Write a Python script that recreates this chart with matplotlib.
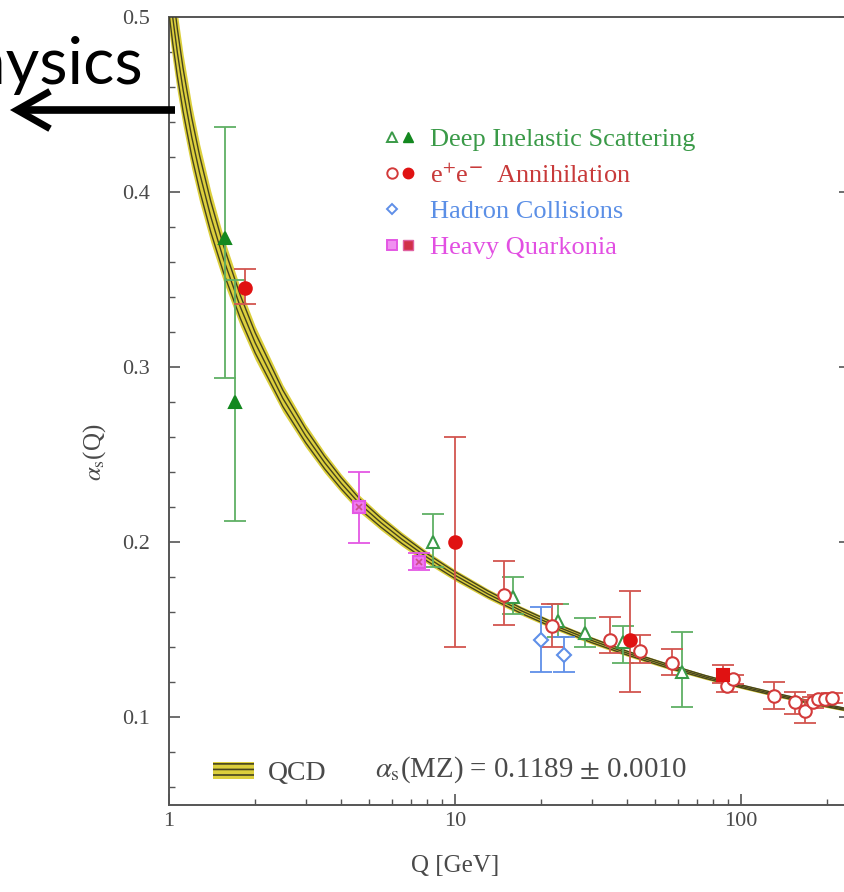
import numpy as np
import matplotlib
matplotlib.use("Agg")
import matplotlib.pyplot as plt
from matplotlib.lines import Line2D
from matplotlib.patches import Patch
from matplotlib.legend_handler import HandlerTuple
from matplotlib.ticker import FixedLocator, FixedFormatter, NullFormatter, MultipleLocator

plt.rcParams['font.family'] = ['Liberation Serif', 'DejaVu Serif']
plt.rcParams['mathtext.fontset'] = 'stix'
plt.rcParams['hatch.linewidth'] = 1.2

# QCD running coupling
q_curve = [1.00, 1.03, 1.07, 1.12, 1.20, 1.28, 1.40, 1.55, 1.777, 2.0, 2.5, 3.0, 3.5, 4.0, 4.65,
           5.5, 6.5, 8.0, 10.0, 13.0, 17.0, 22.0, 30.0, 40.0, 55.0, 75.0, 100.0, 135.0, 180.0, 240.0]
alpha_curve = [0.518, 0.500, 0.4795, 0.4584, 0.4317, 0.4108, 0.3859, 0.3618, 0.3343, 0.3140, 0.2822,
               0.2610, 0.2455, 0.2337, 0.2218, 0.2113, 0.2019, 0.1913, 0.1812, 0.1706, 0.1610, 0.1528,
               0.1440, 0.1367, 0.1295, 0.1231, 0.1178, 0.1127, 0.1082, 0.1041]
band_half = [0.0260, 0.0245, 0.0224, 0.0205, 0.0182, 0.0165, 0.0146, 0.0127, 0.0109, 0.0096, 0.0078,
             0.0066, 0.0059, 0.0053, 0.0048, 0.0043, 0.0040, 0.0035, 0.0032, 0.0029, 0.0025, 0.0023,
             0.0021, 0.0018, 0.0017, 0.0014, 0.0013, 0.0013, 0.0012, 0.0010]

# Deep inelastic scattering
dis_open_q = [8.4, 15.9, 22.9, 28.5, 38.6, 62.2]
dis_open_a = [0.200, 0.169, 0.155, 0.1485, 0.143, 0.126]
dis_open_lo = [0.186, 0.159, 0.146, 0.1405, 0.131, 0.106]
dis_open_hi = [0.216, 0.180, 0.1645, 0.157, 0.152, 0.149]
dis_fill_q = [1.57, 1.70]
dis_fill_a = [0.374, 0.280]
dis_fill_lo = [0.294, 0.212]
dis_fill_hi = [0.437, 0.350]

# e+e- annihilation
ee_open_q = [14.8, 21.8, 34.8, 44.4, 57.2, 89.4, 93.6, 129.7, 154.0, 167.0, 178.0, 186.0, 197.0, 208.0]
ee_open_a = [0.170, 0.152, 0.1445, 0.138, 0.131, 0.1177, 0.1217, 0.112, 0.1086, 0.1034, 0.1086, 0.1103, 0.1103, 0.111]
ee_open_lo = [0.153, 0.140, 0.137, 0.131, 0.1245, 0.1148, 0.119, 0.1046, 0.1017, 0.0971, 0.1056, 0.1075, 0.1075, 0.108]
ee_open_hi = [0.1896, 0.1645, 0.1576, 0.147, 0.139, 0.1205, 0.1245, 0.120, 0.1143, 0.110, 0.1116, 0.1131, 0.1131, 0.114]
ee_fill_q = [1.84, 10.0, 40.7]
ee_fill_a = [0.345, 0.200, 0.1445]
ee_fill_lo = [0.336, 0.1405, 0.1148]
ee_fill_hi = [0.356, 0.260, 0.172]

# hadron collisions
had_q = [20.0, 24.0]
had_a = [0.144, 0.1354]
had_lo = [0.1257, 0.1262]
had_hi = [0.1628, 0.146]

# heavy quarkonia
hq_q = [4.6, 7.5]
hq_a = [0.2204, 0.189]
hq_lo = [0.1999, 0.184]
hq_hi = [0.2404, 0.194]
hq_fill_q = [86.7]
hq_fill_a = [0.1245]
hq_fill_lo = [0.1195]
hq_fill_hi = [0.1297]

legend_labels = ["Deep Inelastic Scattering", r"e$^{+}$e$^{\mathbf{-}}$  Annihilation",
                 "Hadron Collisions", "Heavy Quarkonia"]

c_dis, c_dis_f, c_dis_bar = '#3a9a48', '#13881f', '#5fb064'
c_ee, c_ee_f, c_ee_bar = '#d33a3a', '#e01212', '#d2554f'
c_had = '#5f8fe8'
c_hq, c_hq_in = '#e457e4', '#cc4d8a'
c_band, c_line = '#dccf3c', '#46441e'
c_text = '#4a4a4a'

fig = plt.figure(figsize=(8.45, 8.92), dpi=100)
W, H = 845.0, 892.0
ax = fig.add_axes([169 / W, 1 - 805 / H, (850 - 169) / W, (805 - 17) / H])

ax.set_xscale('log')
ax.set_xlim(1, 240)
ax.set_ylim(0.05, 0.5)

q_c = np.array(q_curve)
a_c = np.array(alpha_curve)
hw = np.array(band_half)
ax.fill_between(q_c, a_c - hw, a_c + hw, color=c_band, lw=0, zorder=2)
for f in (-0.6, 0.0, 0.6):
    ax.plot(q_c, a_c + f * hw, color=c_line, lw=1.0, zorder=3)


def draw(q, a, lo, hi, marker, ms, face, edge, bar, z=5):
    a = np.array(a)
    yerr = [a - np.array(lo), np.array(hi) - a]
    ax.errorbar(q, a, yerr=yerr, fmt='none', ecolor=bar, elinewidth=1.3,
                capsize=8, capthick=1.3, zorder=z)
    ax.plot(q, a, ls='none', marker=marker, ms=ms, mfc=face, mec=edge, mew=1.5, zorder=z + 1)


draw(dis_fill_q, dis_fill_a, dis_fill_lo, dis_fill_hi, '^', 9, c_dis_f, c_dis_f, c_dis_bar)
draw(dis_open_q, dis_open_a, dis_open_lo, dis_open_hi, '^', 9, 'white', c_dis, c_dis_bar)
draw(ee_open_q, ee_open_a, ee_open_lo, ee_open_hi, 'o', 9, 'white', c_ee, c_ee_bar)
draw(ee_fill_q, ee_fill_a, ee_fill_lo, ee_fill_hi, 'o', 9, c_ee_f, c_ee_f, c_ee_bar)
draw(had_q, had_a, had_lo, had_hi, 'D', 7, 'white', c_had, c_had)
draw(hq_q, hq_a, hq_lo, hq_hi, 's', 9, '#f07af0', c_hq, c_hq)
ax.plot(hq_q, hq_a, ls='none', marker='x', ms=5, mec=c_hq_in, mew=1.2, zorder=7)
draw(hq_fill_q, hq_fill_a, hq_fill_lo, hq_fill_hi, 's', 9, c_ee_f, c_ee_f, c_ee_bar)

# axes styling
for s in ax.spines.values():
    s.set_color('#555555')
    s.set_linewidth(1.4)
ax.xaxis.set_major_locator(FixedLocator([1, 10, 100]))
ax.xaxis.set_major_formatter(FixedFormatter(['1', '10', '100']))
ax.xaxis.set_minor_locator(FixedLocator([2, 3, 4, 5, 6, 7, 8, 9, 20, 30, 40, 50, 60, 70, 80, 90, 200]))
ax.xaxis.set_minor_formatter(NullFormatter())
ax.yaxis.set_major_locator(FixedLocator([0.1, 0.2, 0.3, 0.4, 0.5]))
ax.yaxis.set_minor_locator(MultipleLocator(0.02))
ax.tick_params(which='both', direction='in', colors='#555555', labelcolor=c_text,
               labelsize=16, right=True, top=False)
ax.tick_params(which='major', length=8, width=1.2)
ax.tick_params(which='minor', length=4, width=1.0)
ax.tick_params(axis='x', which='major', pad=5)
ax.tick_params(axis='y', which='major', pad=14)

ax.set_xlabel('Q [GeV]', fontsize=18, color=c_text)
ax.set_ylabel(r'$\alpha_{\mathrm{s}}$(Q)', fontsize=18, color=c_text)
ax.xaxis.set_label_coords((455 - 169) / 681, -(866 - 805) / 788)
ax.yaxis.set_label_coords((95 - 169) / 681, (805 - 452) / 788)
ax.xaxis.label.set_va('center')
ax.yaxis.label.set_va('center')

# data legend
handles = [
    (Line2D([], [], ls='none', marker='^', ms=7.5, mfc='white', mec=c_dis, mew=1.4),
     Line2D([], [], ls='none', marker='^', ms=7.5, mfc=c_dis_f, mec=c_dis_f)),
    (Line2D([], [], ls='none', marker='o', ms=7.5, mfc='white', mec=c_ee, mew=1.4),
     Line2D([], [], ls='none', marker='o', ms=7.5, mfc=c_ee_f, mec=c_ee_f)),
    (Line2D([], [], ls='none', marker='D', ms=5.5, mfc='white', mec=c_had, mew=1.4),
     Line2D([], [], ls='none', marker='none')),
    (Line2D([], [], ls='none', marker='s', ms=7.5, mfc='#f090f0', mec=c_hq, mew=1.4),
     Line2D([], [], ls='none', marker='s', ms=7.5, mfc='#d03048', mec='#e060a0', mew=1.0)),
]
leg = ax.legend(handles, legend_labels, handler_map={tuple: HandlerTuple(ndivide=None, pad=0)},
                loc='upper left', bbox_to_anchor=(373 / W, 1 - 117 / H),
                bbox_transform=fig.transFigure, borderaxespad=0, frameon=False,
                fontsize=19, handlelength=1.25, handletextpad=0.5, labelspacing=0.47,
                labelcolor=[c_dis, '#c83a3a', '#5b8fe6', '#e24fe2'])
ax.add_artist(leg)

# QCD band legend
qcd_patch = Patch(facecolor=c_band, edgecolor=c_line, hatch='---', lw=0)
ax.legend([qcd_patch], ['QCD'], loc='upper left', bbox_to_anchor=(202 / W, 1 - 750 / H),
          bbox_transform=fig.transFigure, borderaxespad=0, frameon=False, fontsize=20,
          handlelength=1.47, handleheight=0.6, handletextpad=0.5, labelcolor=c_text)
ax.text(375 / W, 1 - 770 / H, r'$\alpha_{\mathrm{s}}$(MZ) = 0.1189 $\pm$ 0.0010', transform=fig.transFigure,
        fontsize=20.8, color=c_text, va='center', ha='left')

# overlay note at the top left
fig.text(143 / W, 1 - 84 / H, 'Physics', ha='right', va='baseline', fontsize=47,
         family='Lato', color='black')
ya = 1 - 110 / H
fig.add_artist(Line2D([18 / W, 175 / W], [ya, ya], transform=fig.transFigure, lw=5.5,
                      color='black', solid_capstyle='butt'))
fig.add_artist(Line2D([47 / W, 17 / W, 47 / W], [1 - 93 / H, ya, 1 - 127 / H],
                      transform=fig.transFigure, lw=5, color='black', solid_joinstyle='miter'))

fig.savefig('out.png', dpi=100)
